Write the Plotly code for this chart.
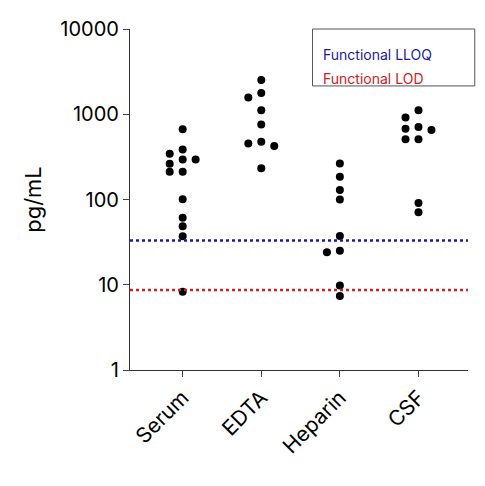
import plotly.graph_objects as go
import numpy as np

groups = ["Serum", "EDTA", "Heparin", "CSF"]
serum = [665, 385, 345, 295, 295, 263, 212, 212, 101, 61, 48.5, 37, 8.3]
edta = [2530, 1780, 1570, 1115, 760, 477, 455, 424, 232]
heparin = [265, 185, 129, 100, 37.4, 24, 25, 9.8, 7.4]
csf = [1115, 915, 710, 653, 677, 508, 508, 91, 71]
lloq = 33
lod = 8.7


def swarm(vals, step=0.165, gap=0.09):
    # greedy beeswarm in log space
    order = np.argsort(vals)[::-1]
    placed = []
    offs = [0.0] * len(vals)
    for i in order:
        lv = np.log10(vals[i])
        for s in [0, -1, 1, -2, 2, -3, 3]:
            if all(not (abs(lv - pl) < gap and abs(s - ps) < 1) for pl, ps in placed):
                placed.append((lv, s))
                offs[i] = s * step
                break
    return offs


fig = go.Figure()
for k, vals in enumerate([serum, edta, heparin, csf]):
    offs = swarm(vals)
    fig.add_trace(go.Scatter(
        x=[k + o for o in offs], y=vals, mode="markers",
        marker=dict(color="black", size=8), showlegend=False, cliponaxis=False,
    ))

fig.add_shape(type="line", xref="paper", x0=0, x1=1, yref="y", y0=lloq, y1=lloq,
              line=dict(color="#1a1aa8", width=2.5, dash="dot"))
fig.add_shape(type="line", xref="paper", x0=0, x1=1, yref="y", y0=lod, y1=lod,
              line=dict(color="#d42020", width=2.5, dash="dot"))
fig.add_shape(type="rect", xref="paper", yref="paper", x0=0.54, x1=1.02, y0=0.833, y1=1.0,
              line=dict(color="#555", width=1), fillcolor="white")
fig.add_annotation(xref="paper", yref="paper", x=0.565, y=0.956, xanchor="left",
                   text="Functional LLOQ", showarrow=False, font=dict(color="#1a1aa8", size=14))
fig.add_annotation(xref="paper", yref="paper", x=0.565, y=0.886, xanchor="left",
                   text="Functional LOD", showarrow=False, font=dict(color="#d42020", size=14))

fig.update_layout(
    width=485, height=486,
    margin=dict(l=122, r=25, t=21, b=124, autoexpand=False),
    paper_bgcolor="white", plot_bgcolor="white",
    font=dict(family="Inter", size=18, color="black"),
    xaxis=dict(range=[-0.67, 3.63], tickvals=[0, 1, 2, 3], ticktext=groups,
               tickangle=-45, showgrid=False, zeroline=False, showline=True,
               linecolor="#333", linewidth=1.2, ticks="outside", ticklen=6,
               tickfont=dict(size=21), automargin=False),
    yaxis=dict(type="log", range=[0, 4], tickvals=[1, 10, 100, 1000, 10000],
               ticktext=["1", "10", "100", "1000", "10000"], showgrid=False,
               zeroline=False, showline=True, linecolor="#333", linewidth=1.2,
               ticks="outside", ticklen=6, tickfont=dict(size=20), automargin=False,
               title=dict(text="pg/mL", font=dict(size=22), standoff=12)),
)
fig.write_html("out.html")
